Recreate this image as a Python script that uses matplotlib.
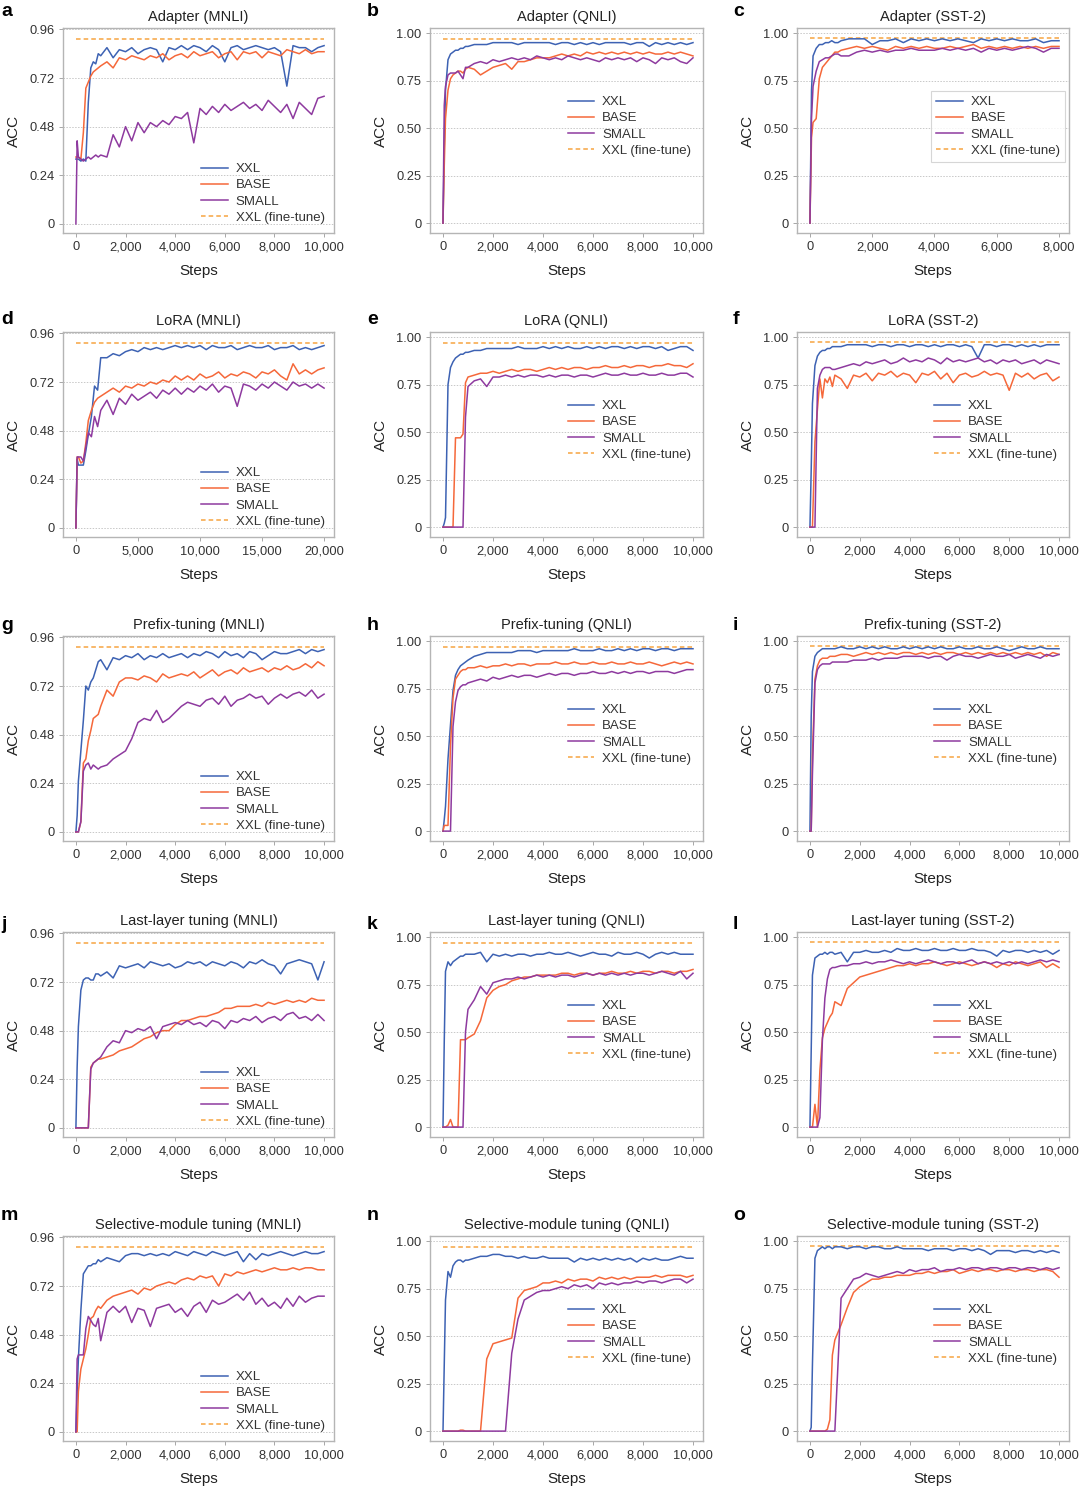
import numpy as np
import matplotlib
matplotlib.use('Agg')
import matplotlib.pyplot as plt

plt.rcParams['font.family'] = ['Liberation Sans', 'DejaVu Sans']

# evaluation steps
steps_10k = [0, 50, 100, 200, 300, 400, 500, 600, 700, 800, 900, 1000] + list(range(1250, 10001, 250))
steps_8k = [0, 50, 100, 200, 300, 400, 500, 600, 700, 800, 900, 1000] + list(range(1250, 8001, 250))
steps_20k = [0, 100, 200, 400, 600, 800, 1000, 1250, 1500, 1750, 2000, 2500] + list(range(3000, 20001, 500))

# fine-tune reference accuracy
ft_mnli = 0.915
ft_qnli = 0.968
ft_sst2 = 0.975

# a: Adapter (MNLI)
a_xxl = [0.32, 0.32, 0.32, 0.31, 0.32, 0.31, 0.60, 0.77, 0.80, 0.79, 0.84, 0.83,
         0.87, 0.82, 0.86, 0.85, 0.87, 0.84, 0.86, 0.87, 0.86, 0.80, 0.87, 0.86,
         0.88, 0.86, 0.88, 0.87, 0.85, 0.88, 0.86, 0.80, 0.87, 0.88, 0.86, 0.87,
         0.88, 0.87, 0.86, 0.87, 0.85, 0.68, 0.88, 0.87, 0.87, 0.85, 0.87, 0.88]
a_base = [0.33, 0.33, 0.33, 0.32, 0.45, 0.67, 0.70, 0.73, 0.75, 0.76, 0.77, 0.78,
          0.80, 0.77, 0.82, 0.81, 0.83, 0.82, 0.81, 0.83, 0.82, 0.84, 0.81, 0.83,
          0.84, 0.82, 0.85, 0.83, 0.84, 0.85, 0.82, 0.84, 0.85, 0.81, 0.85, 0.84,
          0.85, 0.82, 0.85, 0.84, 0.83, 0.86, 0.85, 0.84, 0.86, 0.84, 0.85, 0.85]
a_small = [0.0, 0.41, 0.33, 0.32, 0.31, 0.32, 0.33, 0.32, 0.33, 0.34, 0.33, 0.34,
           0.33, 0.44, 0.38, 0.48, 0.41, 0.50, 0.45, 0.50, 0.48, 0.51, 0.49, 0.53,
           0.52, 0.55, 0.40, 0.57, 0.54, 0.58, 0.55, 0.59, 0.56, 0.58, 0.60, 0.57,
           0.59, 0.56, 0.61, 0.58, 0.55, 0.59, 0.52, 0.60, 0.57, 0.54, 0.62, 0.63]

# b: Adapter (QNLI)
b_xxl = [0.0, 0.40, 0.70, 0.86, 0.89, 0.90, 0.91, 0.91, 0.92, 0.92, 0.93, 0.93,
         0.94, 0.94, 0.94, 0.95, 0.95, 0.95, 0.95, 0.94, 0.95, 0.95, 0.95, 0.95,
         0.95, 0.94, 0.95, 0.95, 0.94, 0.95, 0.94, 0.95, 0.94, 0.95, 0.95, 0.95,
         0.95, 0.94, 0.95, 0.95, 0.93, 0.95, 0.94, 0.95, 0.94, 0.95, 0.94, 0.95]
b_base = [0.0, 0.30, 0.55, 0.70, 0.76, 0.78, 0.79, 0.80, 0.80, 0.79, 0.81, 0.82,
          0.81, 0.78, 0.80, 0.82, 0.83, 0.84, 0.81, 0.85, 0.85, 0.86, 0.87, 0.87,
          0.87, 0.88, 0.89, 0.88, 0.89, 0.88, 0.90, 0.89, 0.90, 0.89, 0.90, 0.89,
          0.90, 0.89, 0.90, 0.89, 0.90, 0.89, 0.89, 0.90, 0.89, 0.90, 0.89, 0.88]
b_small = [0.0, 0.62, 0.72, 0.78, 0.79, 0.79, 0.79, 0.80, 0.78, 0.76, 0.82, 0.82,
           0.84, 0.85, 0.84, 0.86, 0.85, 0.86, 0.87, 0.86, 0.87, 0.86, 0.88, 0.87,
           0.86, 0.87, 0.86, 0.88, 0.87, 0.86, 0.87, 0.86, 0.85, 0.87, 0.86, 0.87,
           0.86, 0.87, 0.85, 0.87, 0.86, 0.84, 0.87, 0.86, 0.87, 0.85, 0.84, 0.87]

# c: Adapter (SST-2)
c_xxl = [0.0, 0.70, 0.88, 0.92, 0.94, 0.94, 0.95, 0.95, 0.96, 0.95, 0.95, 0.96,
         0.97, 0.97, 0.97, 0.94, 0.96, 0.96, 0.97, 0.95, 0.97, 0.96, 0.97, 0.96,
         0.97, 0.96, 0.97, 0.96, 0.95, 0.97, 0.96, 0.97, 0.96, 0.97, 0.96, 0.96,
         0.97, 0.95, 0.96, 0.96]
c_base = [0.0, 0.45, 0.53, 0.55, 0.76, 0.82, 0.84, 0.86, 0.88, 0.90, 0.90, 0.91,
          0.92, 0.93, 0.92, 0.93, 0.92, 0.91, 0.93, 0.92, 0.93, 0.92, 0.93, 0.92,
          0.92, 0.93, 0.92, 0.93, 0.94, 0.92, 0.93, 0.92, 0.93, 0.92, 0.93, 0.92,
          0.93, 0.92, 0.93, 0.93]
c_small = [0.0, 0.55, 0.72, 0.80, 0.85, 0.86, 0.87, 0.87, 0.88, 0.89, 0.89, 0.88,
           0.88, 0.90, 0.91, 0.90, 0.91, 0.90, 0.91, 0.91, 0.92, 0.91, 0.91, 0.91,
           0.92, 0.91, 0.92, 0.91, 0.92, 0.90, 0.92, 0.91, 0.92, 0.91, 0.92, 0.93,
           0.92, 0.90, 0.92, 0.92]

# d: LoRA (MNLI)
d_xxl = [0.0, 0.34, 0.31, 0.31, 0.31, 0.38, 0.46, 0.55, 0.70, 0.68, 0.84, 0.84,
         0.86, 0.85, 0.87, 0.88, 0.87, 0.89, 0.88, 0.89, 0.88, 0.89, 0.90, 0.89,
         0.90, 0.89, 0.90, 0.88, 0.90, 0.89, 0.89, 0.90, 0.88, 0.89, 0.90, 0.89,
         0.89, 0.90, 0.88, 0.89, 0.89, 0.90, 0.88, 0.89, 0.88, 0.89, 0.90]
d_base = [0.0, 0.35, 0.35, 0.32, 0.33, 0.42, 0.53, 0.58, 0.62, 0.64, 0.65, 0.67,
          0.69, 0.67, 0.70, 0.69, 0.71, 0.70, 0.72, 0.71, 0.73, 0.72, 0.75, 0.73,
          0.75, 0.73, 0.76, 0.74, 0.75, 0.77, 0.74, 0.76, 0.75, 0.77, 0.76, 0.74,
          0.77, 0.76, 0.78, 0.75, 0.73, 0.81, 0.76, 0.78, 0.76, 0.78, 0.79]
d_small = [0.0, 0.35, 0.35, 0.35, 0.33, 0.40, 0.47, 0.45, 0.55, 0.50, 0.58, 0.63,
           0.56, 0.64, 0.61, 0.66, 0.63, 0.65, 0.67, 0.64, 0.68, 0.66, 0.69, 0.66,
           0.69, 0.67, 0.70, 0.68, 0.71, 0.67, 0.70, 0.69, 0.60, 0.71, 0.70, 0.68,
           0.71, 0.69, 0.72, 0.70, 0.68, 0.72, 0.70, 0.71, 0.69, 0.71, 0.69]

# e: LoRA (QNLI)
e_xxl = [0.0, 0.02, 0.05, 0.75, 0.84, 0.87, 0.89, 0.90, 0.91, 0.91, 0.92, 0.92,
         0.93, 0.93, 0.94, 0.94, 0.94, 0.94, 0.94, 0.95, 0.94, 0.94, 0.94, 0.95,
         0.94, 0.95, 0.94, 0.95, 0.94, 0.94, 0.95, 0.94, 0.95, 0.94, 0.95, 0.95,
         0.94, 0.95, 0.94, 0.95, 0.95, 0.94, 0.95, 0.93, 0.94, 0.95, 0.95, 0.93]
e_base = [0.0, 0.0, 0.0, 0.0, 0.0, 0.0, 0.47, 0.47, 0.47, 0.49, 0.76, 0.79,
          0.80, 0.81, 0.81, 0.82, 0.81, 0.82, 0.83, 0.82, 0.83, 0.83, 0.82, 0.83,
          0.84, 0.83, 0.84, 0.83, 0.84, 0.84, 0.83, 0.84, 0.84, 0.85, 0.84, 0.84,
          0.85, 0.84, 0.85, 0.85, 0.84, 0.85, 0.85, 0.86, 0.85, 0.85, 0.84, 0.86]
e_small = [0.0, 0.0, 0.0, 0.0, 0.0, 0.0, 0.0, 0.0, 0.0, 0.0, 0.58, 0.74,
           0.77, 0.78, 0.74, 0.79, 0.79, 0.80, 0.79, 0.80, 0.79, 0.80, 0.80, 0.79,
           0.80, 0.79, 0.80, 0.80, 0.79, 0.80, 0.80, 0.79, 0.80, 0.81, 0.80, 0.80,
           0.81, 0.80, 0.80, 0.81, 0.80, 0.80, 0.81, 0.80, 0.80, 0.81, 0.81, 0.79]

# f: LoRA (SST-2)
f_xxl = [0.0, 0.30, 0.65, 0.85, 0.90, 0.92, 0.93, 0.93, 0.94, 0.94, 0.95, 0.95,
         0.95, 0.96, 0.96, 0.96, 0.96, 0.95, 0.96, 0.96, 0.95, 0.96, 0.96, 0.95,
         0.96, 0.96, 0.95, 0.96, 0.95, 0.96, 0.96, 0.95, 0.96, 0.95, 0.89, 0.96,
         0.96, 0.95, 0.96, 0.96, 0.95, 0.96, 0.95, 0.96, 0.95, 0.96, 0.96, 0.96]
f_base = [0.0, 0.0, 0.0, 0.45, 0.62, 0.78, 0.68, 0.78, 0.76, 0.79, 0.74, 0.80,
          0.78, 0.73, 0.80, 0.79, 0.81, 0.77, 0.81, 0.80, 0.82, 0.79, 0.81, 0.80,
          0.76, 0.81, 0.80, 0.82, 0.78, 0.81, 0.76, 0.80, 0.81, 0.79, 0.80, 0.82,
          0.80, 0.81, 0.80, 0.72, 0.81, 0.79, 0.81, 0.78, 0.80, 0.81, 0.77, 0.79]
f_small = [0.0, 0.0, 0.0, 0.0, 0.73, 0.80, 0.83, 0.84, 0.84, 0.84, 0.83, 0.83,
           0.84, 0.85, 0.86, 0.85, 0.87, 0.86, 0.87, 0.88, 0.86, 0.87, 0.89, 0.87,
           0.88, 0.87, 0.89, 0.88, 0.86, 0.89, 0.87, 0.88, 0.87, 0.88, 0.89, 0.87,
           0.88, 0.86, 0.88, 0.87, 0.88, 0.86, 0.87, 0.88, 0.86, 0.88, 0.87, 0.86]

# g: Prefix-tuning (MNLI)
g_xxl = [0.0, 0.08, 0.25, 0.40, 0.55, 0.72, 0.70, 0.74, 0.76, 0.80, 0.84, 0.85,
         0.80, 0.86, 0.85, 0.87, 0.86, 0.88, 0.85, 0.87, 0.86, 0.88, 0.86, 0.87,
         0.88, 0.86, 0.88, 0.87, 0.89, 0.88, 0.86, 0.89, 0.87, 0.88, 0.86, 0.89,
         0.88, 0.85, 0.87, 0.89, 0.88, 0.88, 0.89, 0.90, 0.88, 0.90, 0.89, 0.90]
g_base = [0.0, 0.0, 0.0, 0.05, 0.34, 0.36, 0.45, 0.50, 0.56, 0.57, 0.58, 0.62,
          0.70, 0.67, 0.74, 0.76, 0.76, 0.75, 0.77, 0.76, 0.74, 0.78, 0.76, 0.77,
          0.78, 0.77, 0.79, 0.76, 0.78, 0.80, 0.77, 0.79, 0.80, 0.78, 0.81, 0.79,
          0.80, 0.81, 0.79, 0.81, 0.80, 0.82, 0.80, 0.81, 0.83, 0.81, 0.84, 0.82]
g_small = [0.0, 0.0, 0.0, 0.05, 0.30, 0.33, 0.34, 0.31, 0.33, 0.32, 0.31, 0.32,
           0.33, 0.36, 0.38, 0.40, 0.46, 0.54, 0.56, 0.55, 0.60, 0.54, 0.56, 0.59,
           0.62, 0.64, 0.63, 0.62, 0.65, 0.66, 0.63, 0.67, 0.62, 0.65, 0.66, 0.68,
           0.66, 0.67, 0.63, 0.66, 0.68, 0.66, 0.68, 0.69, 0.67, 0.70, 0.66, 0.68]

# h: Prefix-tuning (QNLI)
h_xxl = [0.0, 0.06, 0.13, 0.38, 0.56, 0.74, 0.82, 0.85, 0.87, 0.88, 0.89, 0.90,
         0.92, 0.93, 0.94, 0.94, 0.94, 0.94, 0.94, 0.95, 0.95, 0.95, 0.94, 0.95,
         0.95, 0.95, 0.95, 0.95, 0.96, 0.95, 0.95, 0.95, 0.96, 0.95, 0.95, 0.96,
         0.95, 0.96, 0.95, 0.96, 0.96, 0.95, 0.96, 0.96, 0.95, 0.96, 0.96, 0.96]
h_base = [0.0, 0.03, 0.03, 0.03, 0.45, 0.70, 0.80, 0.82, 0.84, 0.85, 0.85, 0.86,
          0.86, 0.87, 0.86, 0.87, 0.87, 0.88, 0.87, 0.88, 0.88, 0.87, 0.88, 0.88,
          0.88, 0.89, 0.88, 0.88, 0.89, 0.88, 0.88, 0.89, 0.88, 0.88, 0.89, 0.88,
          0.88, 0.89, 0.88, 0.88, 0.89, 0.88, 0.87, 0.88, 0.89, 0.88, 0.89, 0.88]
h_small = [0.0, 0.0, 0.0, 0.0, 0.0, 0.55, 0.68, 0.74, 0.76, 0.77, 0.77, 0.78,
           0.79, 0.80, 0.79, 0.81, 0.80, 0.81, 0.82, 0.81, 0.82, 0.82, 0.81, 0.82,
           0.83, 0.82, 0.83, 0.83, 0.82, 0.83, 0.83, 0.84, 0.83, 0.83, 0.84, 0.83,
           0.84, 0.83, 0.84, 0.84, 0.83, 0.84, 0.84, 0.84, 0.83, 0.84, 0.85, 0.85]

# i: Prefix-tuning (SST-2)
i_xxl = [0.0, 0.60, 0.84, 0.92, 0.94, 0.95, 0.96, 0.96, 0.96, 0.96, 0.96, 0.96,
         0.97, 0.96, 0.96, 0.97, 0.96, 0.97, 0.96, 0.97, 0.96, 0.96, 0.97, 0.96,
         0.97, 0.96, 0.97, 0.96, 0.97, 0.96, 0.96, 0.97, 0.96, 0.96, 0.97, 0.96,
         0.96, 0.97, 0.96, 0.95, 0.96, 0.97, 0.96, 0.96, 0.97, 0.96, 0.96, 0.96]
i_base = [0.0, 0.0, 0.40, 0.80, 0.87, 0.90, 0.91, 0.91, 0.91, 0.92, 0.92, 0.92,
          0.93, 0.93, 0.92, 0.93, 0.94, 0.93, 0.94, 0.93, 0.94, 0.93, 0.94, 0.94,
          0.93, 0.94, 0.93, 0.94, 0.93, 0.94, 0.94, 0.93, 0.94, 0.93, 0.94, 0.93,
          0.94, 0.93, 0.94, 0.93, 0.94, 0.93, 0.94, 0.93, 0.94, 0.92, 0.94, 0.93]
i_small = [0.0, 0.0, 0.30, 0.78, 0.85, 0.87, 0.88, 0.88, 0.88, 0.88, 0.89, 0.89,
           0.89, 0.89, 0.90, 0.90, 0.90, 0.91, 0.90, 0.91, 0.91, 0.91, 0.92, 0.92,
           0.92, 0.92, 0.91, 0.92, 0.92, 0.90, 0.92, 0.93, 0.92, 0.92, 0.91, 0.92,
           0.93, 0.92, 0.92, 0.93, 0.91, 0.92, 0.93, 0.92, 0.91, 0.93, 0.92, 0.93]

# j: Last-layer tuning (MNLI)
j_xxl = [0.0, 0.30, 0.50, 0.68, 0.73, 0.74, 0.74, 0.73, 0.73, 0.76, 0.76, 0.75,
         0.77, 0.74, 0.80, 0.79, 0.80, 0.81, 0.79, 0.82, 0.81, 0.80, 0.81, 0.79,
         0.80, 0.82, 0.81, 0.82, 0.80, 0.82, 0.81, 0.80, 0.82, 0.81, 0.79, 0.82,
         0.81, 0.83, 0.81, 0.80, 0.76, 0.81, 0.82, 0.83, 0.82, 0.81, 0.73, 0.82]
j_base = [0.0, 0.0, 0.0, 0.0, 0.0, 0.0, 0.0, 0.30, 0.32, 0.33, 0.34, 0.34,
          0.35, 0.36, 0.38, 0.39, 0.40, 0.42, 0.44, 0.45, 0.47, 0.48, 0.48, 0.51,
          0.53, 0.53, 0.54, 0.55, 0.55, 0.56, 0.57, 0.59, 0.59, 0.60, 0.60, 0.60,
          0.61, 0.60, 0.62, 0.61, 0.62, 0.63, 0.62, 0.63, 0.62, 0.64, 0.63, 0.63]
j_small = [0.0, 0.0, 0.0, 0.0, 0.0, 0.0, 0.0, 0.29, 0.32, 0.33, 0.34, 0.35,
           0.40, 0.43, 0.42, 0.48, 0.47, 0.49, 0.48, 0.50, 0.44, 0.50, 0.51, 0.52,
           0.51, 0.53, 0.51, 0.52, 0.50, 0.53, 0.52, 0.49, 0.53, 0.52, 0.54, 0.53,
           0.55, 0.52, 0.54, 0.55, 0.53, 0.56, 0.57, 0.54, 0.55, 0.53, 0.56, 0.53]

# k: Last-layer tuning (QNLI)
k_xxl = [0.0, 0.45, 0.82, 0.87, 0.85, 0.87, 0.88, 0.89, 0.90, 0.90, 0.91, 0.91,
         0.91, 0.92, 0.87, 0.91, 0.90, 0.91, 0.90, 0.91, 0.91, 0.90, 0.91, 0.91,
         0.92, 0.91, 0.91, 0.92, 0.91, 0.90, 0.91, 0.92, 0.91, 0.91, 0.90, 0.92,
         0.91, 0.91, 0.92, 0.91, 0.89, 0.91, 0.92, 0.91, 0.92, 0.91, 0.91, 0.91]
k_base = [0.0, 0.0, 0.0, 0.01, 0.04, 0.0, 0.0, 0.0, 0.46, 0.46, 0.46, 0.47,
          0.49, 0.56, 0.68, 0.72, 0.74, 0.75, 0.77, 0.78, 0.79, 0.79, 0.80, 0.80,
          0.80, 0.80, 0.81, 0.81, 0.80, 0.81, 0.81, 0.80, 0.81, 0.81, 0.82, 0.81,
          0.81, 0.82, 0.81, 0.82, 0.82, 0.81, 0.82, 0.82, 0.81, 0.82, 0.82, 0.83]
k_small = [0.0, 0.0, 0.0, 0.0, 0.0, 0.0, 0.0, 0.0, 0.0, 0.0, 0.50, 0.62,
           0.67, 0.74, 0.70, 0.76, 0.77, 0.78, 0.78, 0.79, 0.78, 0.79, 0.80, 0.79,
           0.80, 0.79, 0.80, 0.80, 0.79, 0.80, 0.81, 0.80, 0.81, 0.80, 0.81, 0.80,
           0.81, 0.80, 0.81, 0.81, 0.80, 0.81, 0.82, 0.81, 0.80, 0.82, 0.78, 0.81]

# l: Last-layer tuning (SST-2)
l_xxl = [0.0, 0.40, 0.80, 0.89, 0.90, 0.91, 0.91, 0.92, 0.91, 0.92, 0.92, 0.91,
         0.92, 0.87, 0.92, 0.92, 0.93, 0.92, 0.92, 0.93, 0.92, 0.94, 0.93, 0.93,
         0.94, 0.93, 0.93, 0.94, 0.93, 0.93, 0.94, 0.93, 0.93, 0.94, 0.93, 0.93,
         0.92, 0.90, 0.93, 0.92, 0.93, 0.93, 0.92, 0.93, 0.92, 0.93, 0.91, 0.93]
l_base = [0.0, 0.0, 0.0, 0.12, 0.0, 0.30, 0.47, 0.52, 0.55, 0.58, 0.60, 0.66,
          0.64, 0.73, 0.76, 0.79, 0.80, 0.81, 0.82, 0.83, 0.84, 0.85, 0.85, 0.86,
          0.85, 0.86, 0.86, 0.87, 0.86, 0.85, 0.86, 0.87, 0.86, 0.85, 0.86, 0.87,
          0.86, 0.84, 0.86, 0.85, 0.87, 0.86, 0.85, 0.86, 0.87, 0.84, 0.86, 0.84]
l_small = [0.0, 0.0, 0.0, 0.0, 0.0, 0.05, 0.46, 0.68, 0.78, 0.83, 0.84, 0.84,
           0.85, 0.85, 0.86, 0.86, 0.87, 0.86, 0.87, 0.87, 0.88, 0.87, 0.86, 0.87,
           0.86, 0.87, 0.88, 0.87, 0.86, 0.87, 0.87, 0.86, 0.87, 0.88, 0.86, 0.87,
           0.86, 0.87, 0.86, 0.87, 0.86, 0.87, 0.86, 0.87, 0.88, 0.87, 0.88, 0.87]

# m: Selective-module tuning (MNLI)
m_xxl = [0.0, 0.20, 0.36, 0.60, 0.78, 0.80, 0.82, 0.82, 0.83, 0.83, 0.85, 0.84,
         0.86, 0.85, 0.84, 0.87, 0.88, 0.88, 0.87, 0.88, 0.87, 0.88, 0.87, 0.89,
         0.88, 0.87, 0.89, 0.88, 0.87, 0.89, 0.88, 0.87, 0.88, 0.89, 0.84, 0.88,
         0.85, 0.88, 0.87, 0.88, 0.89, 0.88, 0.87, 0.88, 0.89, 0.88, 0.88, 0.89]
m_base = [0.0, 0.0, 0.20, 0.31, 0.36, 0.41, 0.48, 0.56, 0.57, 0.60, 0.62, 0.61,
          0.65, 0.67, 0.68, 0.69, 0.70, 0.68, 0.71, 0.70, 0.72, 0.73, 0.74, 0.73,
          0.75, 0.76, 0.75, 0.77, 0.76, 0.77, 0.72, 0.78, 0.77, 0.79, 0.78, 0.79,
          0.80, 0.79, 0.80, 0.81, 0.80, 0.80, 0.81, 0.80, 0.81, 0.81, 0.80, 0.80]
m_small = [0.0, 0.36, 0.38, 0.38, 0.38, 0.51, 0.57, 0.55, 0.53, 0.52, 0.56, 0.45,
           0.59, 0.62, 0.59, 0.62, 0.54, 0.61, 0.60, 0.52, 0.61, 0.62, 0.63, 0.59,
           0.61, 0.57, 0.62, 0.64, 0.59, 0.65, 0.63, 0.64, 0.66, 0.68, 0.65, 0.69,
           0.63, 0.66, 0.62, 0.64, 0.61, 0.66, 0.62, 0.67, 0.64, 0.66, 0.67, 0.67]

# n: Selective-module tuning (QNLI)
n_xxl = [0.0, 0.35, 0.69, 0.84, 0.81, 0.87, 0.89, 0.90, 0.90, 0.89, 0.90, 0.90,
         0.91, 0.92, 0.92, 0.93, 0.93, 0.92, 0.92, 0.91, 0.92, 0.91, 0.91, 0.92,
         0.91, 0.91, 0.91, 0.91, 0.89, 0.91, 0.90, 0.91, 0.90, 0.91, 0.90, 0.91,
         0.90, 0.91, 0.89, 0.91, 0.90, 0.91, 0.90, 0.90, 0.91, 0.92, 0.91, 0.91]
n_base = [0.0, 0.0, 0.0, 0.0, 0.0, 0.0, 0.0, 0.0, 0.005, 0.005, 0.0, 0.0,
          0.0, 0.0, 0.38, 0.46, 0.47, 0.48, 0.49, 0.70, 0.74, 0.75, 0.76, 0.78,
          0.78, 0.79, 0.78, 0.80, 0.79, 0.80, 0.80, 0.79, 0.81, 0.80, 0.81, 0.80,
          0.81, 0.80, 0.81, 0.81, 0.81, 0.82, 0.81, 0.82, 0.82, 0.82, 0.81, 0.82]
n_small = [0.0, 0.0, 0.0, 0.0, 0.0, 0.0, 0.0, 0.0, 0.0, 0.0, 0.0, 0.0,
           0.0, 0.0, 0.0, 0.0, 0.0, 0.0, 0.41, 0.59, 0.69, 0.71, 0.73, 0.74,
           0.74, 0.75, 0.76, 0.75, 0.77, 0.76, 0.77, 0.75, 0.78, 0.77, 0.78, 0.77,
           0.78, 0.78, 0.79, 0.78, 0.79, 0.79, 0.78, 0.79, 0.80, 0.80, 0.78, 0.80]

# o: Selective-module tuning (SST-2)
o_xxl = [0.0, 0.02, 0.35, 0.91, 0.95, 0.96, 0.97, 0.96, 0.97, 0.97, 0.96, 0.97,
         0.97, 0.96, 0.97, 0.97, 0.96, 0.97, 0.97, 0.96, 0.96, 0.97, 0.96, 0.96,
         0.96, 0.96, 0.95, 0.96, 0.96, 0.96, 0.95, 0.96, 0.96, 0.95, 0.96, 0.95,
         0.93, 0.95, 0.95, 0.95, 0.94, 0.95, 0.95, 0.94, 0.95, 0.94, 0.95, 0.94]
o_base = [0.0, 0.0, 0.0, 0.0, 0.0, 0.0, 0.0, 0.0, 0.01, 0.06, 0.40, 0.48,
          0.56, 0.65, 0.73, 0.76, 0.78, 0.80, 0.80, 0.81, 0.81, 0.82, 0.82, 0.82,
          0.83, 0.83, 0.84, 0.83, 0.84, 0.84, 0.85, 0.83, 0.84, 0.85, 0.84, 0.85,
          0.85, 0.84, 0.85, 0.85, 0.84, 0.85, 0.85, 0.84, 0.85, 0.85, 0.84, 0.81]
o_small = [0.0, 0.0, 0.0, 0.0, 0.0, 0.0, 0.0, 0.0, 0.0, 0.0, 0.0, 0.0,
           0.70, 0.75, 0.80, 0.81, 0.83, 0.82, 0.81, 0.82, 0.83, 0.84, 0.83, 0.85,
           0.84, 0.85, 0.85, 0.86, 0.84, 0.85, 0.85, 0.86, 0.85, 0.86, 0.86, 0.85,
           0.86, 0.86, 0.85, 0.86, 0.86, 0.85, 0.86, 0.86, 0.85, 0.86, 0.85, 0.86]

# line colours
col_xxl = '#3d62b3'
col_base = '#f5683a'
col_small = '#8e3a9f'
col_ft = '#f7a441'

panels = [
    ('a', 'Adapter (MNLI)', steps_10k, a_xxl, a_base, a_small, ft_mnli, 'lower'),
    ('b', 'Adapter (QNLI)', steps_10k, b_xxl, b_base, b_small, ft_qnli, 'center'),
    ('c', 'Adapter (SST-2)', steps_8k, c_xxl, c_base, c_small, ft_sst2, 'boxed'),
    ('d', 'LoRA (MNLI)', steps_20k, d_xxl, d_base, d_small, ft_mnli, 'lower'),
    ('e', 'LoRA (QNLI)', steps_10k, e_xxl, e_base, e_small, ft_qnli, 'center'),
    ('f', 'LoRA (SST-2)', steps_10k, f_xxl, f_base, f_small, ft_sst2, 'center'),
    ('g', 'Prefix-tuning (MNLI)', steps_10k, g_xxl, g_base, g_small, ft_mnli, 'lower'),
    ('h', 'Prefix-tuning (QNLI)', steps_10k, h_xxl, h_base, h_small, ft_qnli, 'center'),
    ('i', 'Prefix-tuning (SST-2)', steps_10k, i_xxl, i_base, i_small, ft_sst2, 'center'),
    ('j', 'Last-layer tuning (MNLI)', steps_10k, j_xxl, j_base, j_small, ft_mnli, 'lower'),
    ('k', 'Last-layer tuning (QNLI)', steps_10k, k_xxl, k_base, k_small, ft_qnli, 'center'),
    ('l', 'Last-layer tuning (SST-2)', steps_10k, l_xxl, l_base, l_small, ft_sst2, 'center'),
    ('m', 'Selective-module tuning (MNLI)', steps_10k, m_xxl, m_base, m_small, ft_mnli, 'lower'),
    ('n', 'Selective-module tuning (QNLI)', steps_10k, n_xxl, n_base, n_small, ft_qnli, 'center'),
    ('o', 'Selective-module tuning (SST-2)', steps_10k, o_xxl, o_base, o_small, ft_sst2, 'center'),
]

W, H = 1080, 1488
col_left = [63, 430, 797]
col_width = [271, 273, 272]
row_top = [28, 332, 636, 932, 1236]
ax_height = 205
letter_x = [1, 367, 733]
letter_y = [12, 319, 625, 925, 1215]

fig = plt.figure(figsize=(W / 100, H / 100), dpi=100)

for n, (letter, title, steps, xxl, base, small, ft, legend_kind) in enumerate(panels):
    row, col = n // 3, n % 3
    ax = fig.add_axes([col_left[col] / W, 1 - (row_top[row] + ax_height) / H,
                       col_width[col] / W, ax_height / H])
    steps = np.asarray(steps)
    xmax = steps[-1]

    ax.plot(steps, xxl, color=col_xxl, lw=1.1, label='XXL', zorder=3)
    ax.plot(steps, base, color=col_base, lw=1.1, label='BASE', zorder=3)
    ax.plot(steps, small, color=col_small, lw=1.1, label='SMALL', zorder=3)
    ax.plot([steps[0], xmax], [ft, ft], color=col_ft, lw=1.1, dashes=(3, 2),
            label='XXL (fine-tune)', zorder=2)

    if 'MNLI' in title:
        yt = [0, 0.24, 0.48, 0.72, 0.96]
        ytl = ['0', '0.24', '0.48', '0.72', '0.96']
        ax.set_ylim(-0.045, 0.967)
    else:
        yt = [0, 0.25, 0.5, 0.75, 1.0]
        ytl = ['0', '0.25', '0.50', '0.75', '1.00']
        ax.set_ylim(-0.052, 1.027)
    ax.set_yticks(yt)
    ax.set_yticklabels(ytl)

    xstep = 5000 if xmax == 20000 else 2000
    xt = np.arange(0, xmax + 1, xstep)
    ax.set_xticks(xt)
    ax.set_xticklabels(['{:,}'.format(int(v)) for v in xt])
    ax.set_xlim(-0.052 * xmax, 1.04 * xmax)

    ax.grid(axis='y', color='#c8c8c8', lw=0.7, ls=(0, (1.5, 1.5)), zorder=0)
    for sp in ax.spines.values():
        sp.set_color('#b5b5b5')
        sp.set_linewidth(1.0)
    ax.tick_params(length=3, width=0.6, color='#999999', labelcolor='#333333',
                   labelsize=9.3, pad=3)

    ax.set_title(title, fontsize=10.5, color='#222222', pad=5)
    ax.set_xlabel('Steps', fontsize=11, color='#222222', labelpad=8)
    ax.set_ylabel('ACC', fontsize=11, color='#222222', labelpad=6)

    leg_kw = dict(fontsize=9.5, handlelength=2.0, handletextpad=0.6, labelspacing=0.3,
                  labelcolor='#333333')
    if legend_kind == 'lower':
        ax.legend(loc='lower right', frameon=False, borderaxespad=0.3, **leg_kw)
    elif legend_kind == 'center':
        ax.legend(loc='center right', frameon=False, borderaxespad=0.5,
                  bbox_to_anchor=(1.0, 0.52), **leg_kw)
    else:
        leg = ax.legend(loc='center right', frameon=True, fancybox=False, borderaxespad=0.3,
                        bbox_to_anchor=(1.0, 0.52), **leg_kw)
        leg.get_frame().set_edgecolor('#cccccc')
        leg.get_frame().set_linewidth(0.8)

    fig.text(letter_x[col] / W, 1 - letter_y[row] / H, letter, fontsize=14,
             fontweight='bold', ha='left', va='center')

fig.savefig('out.png', dpi=100)
